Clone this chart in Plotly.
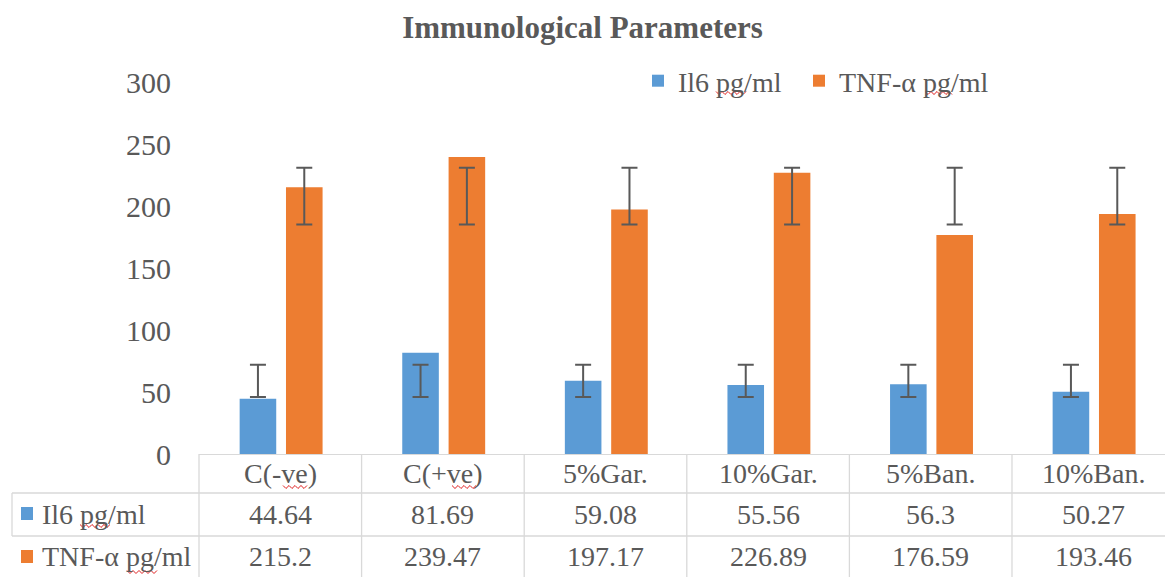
import plotly.graph_objects as go

# ---------------- data ----------------
categories = ["C(-ve)", "C(+ve)", "5%Gar.", "10%Gar.", "5%Ban.", "10%Ban."]
il6 = [44.64, 81.69, 59.08, 55.56, 56.3, 50.27]
tnf = [215.2, 239.47, 197.17, 226.89, 176.59, 193.46]
series_names = ["Il6 pg/ml", "TNF-α pg/ml"]
# error bar ends as drawn in the picture
il6_err_low = [46.0, 46.0, 46.0, 46.0, 46.0, 46.0]
il6_err_high = [72.0, 72.0, 72.0, 72.0, 72.0, 72.0]
tnf_err_low = [185.0, 185.0, 185.0, 185.0, 185.0, 185.0]
tnf_err_high = [230.8, 230.8, 230.8, 230.8, 230.8, 230.8]
y_ticks = [0, 50, 100, 150, 200, 250, 300]

# ---------------- styling / layout constants ----------------
W, H = 1165, 577
ML, MR, MT, MB = 199, 0, 82, 123
XR = [-0.5, 5.441]
BLUE, ORANGE = "#5B9BD5", "#ED7D31"
TXT = "#595959"
GRID = "#d9d9d9"
FONT = "Liberation Serif, Tinos, DejaVu Serif, Noto Serif, serif"
BAR_W = 0.225
OFF = [-0.25, 0.035]


def pxx(px):
    return (px - ML) / (W - ML - MR)


def pxy(py):
    return (H - MB - py) / (H - MT - MB)


def dx(x):
    return (x - XR[0]) / (XR[1] - XR[0])


idx = list(range(len(categories)))

fig = go.Figure()
for vals, name, col, off, lg in [(il6, series_names[0], BLUE, OFF[0], "legend"),
                                 (tnf, series_names[1], ORANGE, OFF[1], "legend2")]:
    fig.add_trace(go.Bar(x=idx, y=vals, name=name, width=BAR_W, offset=off, legend=lg,
                         marker=dict(color=col, line=dict(width=0))))

for lo, hi, off in [(il6_err_low, il6_err_high, OFF[0]),
                    (tnf_err_low, tnf_err_high, OFF[1])]:
    fig.add_trace(go.Scatter(
        x=[i + off + BAR_W / 2 for i in idx],
        y=[(a + b) / 2 for a, b in zip(lo, hi)],
        mode="markers", marker=dict(size=1, color="rgba(0,0,0,0)"),
        showlegend=False, hoverinfo="skip",
        error_y=dict(type="data", array=[(b - a) / 2 for a, b in zip(lo, hi)],
                     color=TXT, thickness=2, width=8)))

shapes = []
line = dict(color=GRID, width=1.3)
# table horizontal lines
for py in [493, 536]:
    shapes.append(dict(type="line", xref="paper", yref="paper",
                       x0=pxx(12), x1=1.02, y0=pxy(py), y1=pxy(py), line=line))
# vertical lines between categories
for i in idx:
    shapes.append(dict(type="line", xref="paper", yref="paper",
                       x0=dx(i - 0.5), x1=dx(i - 0.5), y0=pxy(454), y1=pxy(580), line=line))
# left border of first data row
shapes.append(dict(type="line", xref="paper", yref="paper",
                   x0=pxx(12), x1=pxx(12), y0=pxy(493), y1=pxy(536), line=line))
# legend keys in table
for py, col in [(513.5, BLUE), (556.5, ORANGE)]:
    shapes.append(dict(type="rect", xref="paper", yref="paper",
                       x0=pxx(21), x1=pxx(33), y0=pxy(py - 6.5), y1=pxy(py + 6.5),
                       fillcolor=col, line=dict(width=0)))


def squiggle(x0, x1, y):
    pts = []
    n = int((x1 - x0) / 3)
    for k in range(n + 1):
        px = x0 + k * 3
        py = y + (1.5 if k % 2 else -1.5)
        pts.append(f"{pxx(px):.5f},{pxy(py):.5f}")
    return "M" + " L".join(pts)


for x0, x1, y in [(283, 308, 487), (452, 478, 487), (80, 112, 526),
                  (127, 157, 572), (716, 746, 93), (925, 953, 93)]:
    shapes.append(dict(type="path", xref="paper", yref="paper",
                       path=squiggle(x0, x1, y), line=dict(color="#e02020", width=1)))

annotations = []
tfont = dict(family=FONT, size=28, color=TXT)
for i, c in zip(idx, categories):
    annotations.append(dict(x=dx(i), y=pxy(473.5), xref="paper", yref="paper",
                            xanchor="center", yanchor="middle",
                            text=c, showarrow=False, font=tfont))
for row_y, vals in [(514.5, il6), (556.5, tnf)]:
    for i, v in zip(idx, vals):
        annotations.append(dict(x=dx(i), y=pxy(row_y), xref="paper", yref="paper",
                                xanchor="center", yanchor="middle",
                                text=f"{v:g}", showarrow=False, font=tfont))
for row_y, name in [(514.5, series_names[0]), (556.5, series_names[1])]:
    annotations.append(dict(x=pxx(40), y=pxy(row_y), xref="paper", yref="paper",
                            xanchor="left", yanchor="middle", text=name,
                            showarrow=False, font=tfont))

legend_common = dict(orientation="h", xanchor="left", y=pxy(81), yanchor="middle",
                     font=dict(family=FONT, size=28, color=TXT), itemwidth=30,
                     bgcolor="rgba(0,0,0,0)", itemclick=False, itemdoubleclick=False)

fig.update_layout(
    width=W, height=H,
    margin=dict(l=ML, r=MR, t=MT, b=MB, autoexpand=False),
    paper_bgcolor="white", plot_bgcolor="white",
    title=dict(text="<b>Immunological Parameters</b>", x=0.5, xanchor="center",
               y=1 - 27 / H, yanchor="middle",
               font=dict(family=FONT, size=31, color=TXT)),
    barmode="overlay",
    xaxis=dict(range=XR, showticklabels=False, showgrid=False, zeroline=False,
               showline=True, linecolor=GRID, linewidth=1.3, ticks=""),
    yaxis=dict(range=[0, 300], tickvals=y_ticks, showgrid=False, zeroline=False,
               showline=False, ticks="", ticklabelstandoff=27,
               tickfont=dict(family=FONT, size=30, color=TXT)),
    legend=dict(x=pxx(638), **legend_common),
    legend2=dict(x=pxx(799), **legend_common),
    shapes=shapes, annotations=annotations,
    showlegend=True,
)

fig.write_html("out.html", config={"displayModeBar": False},
               post_script="document.body.style.margin='0px';document.body.style.overflow='hidden';")
